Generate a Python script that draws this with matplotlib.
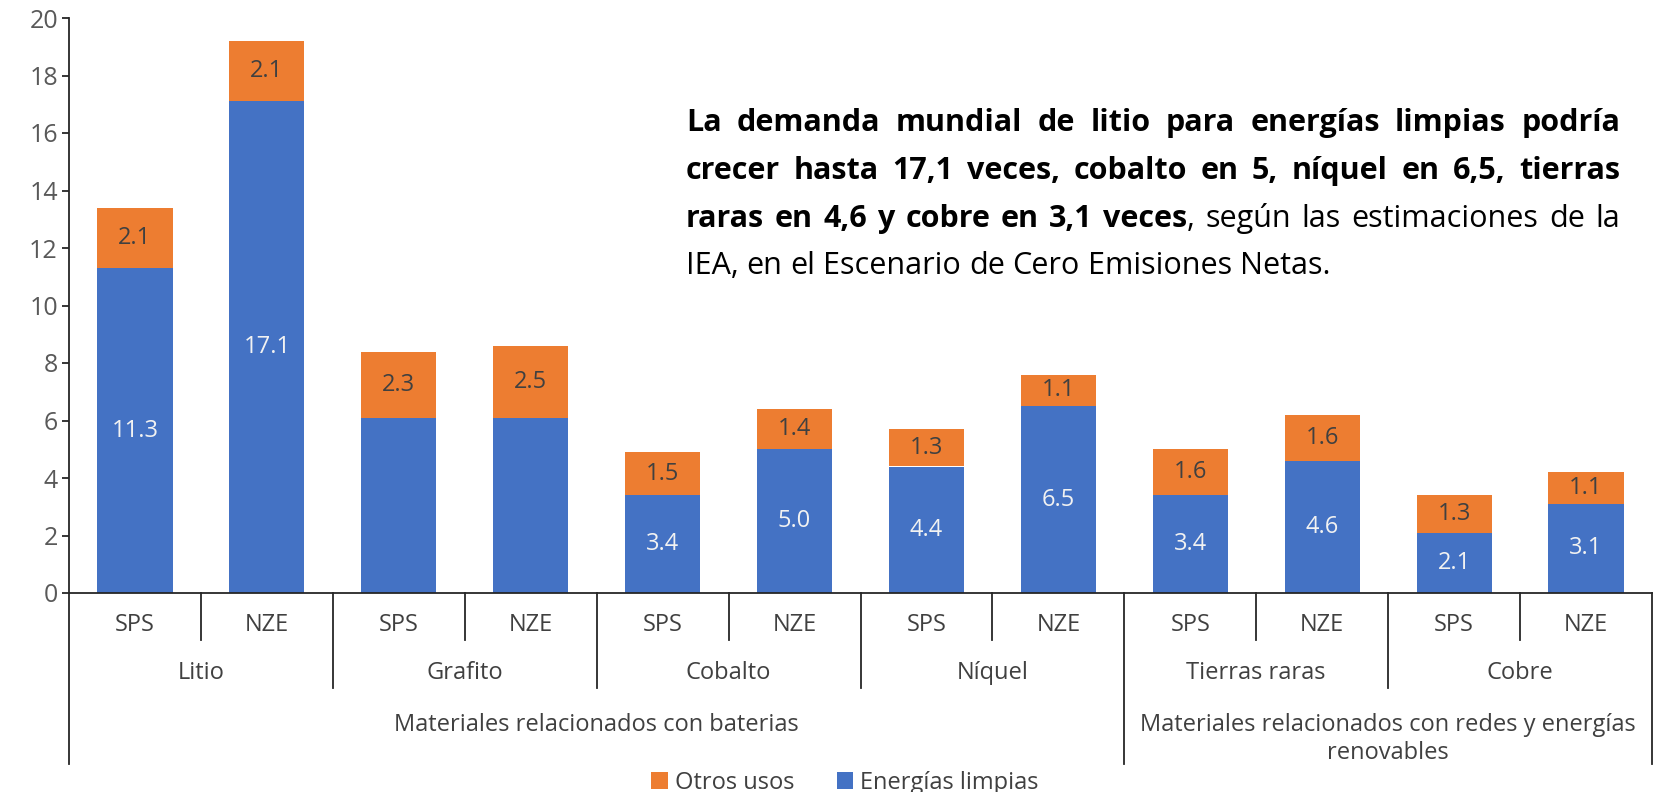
import numpy as np
import matplotlib
matplotlib.use("Agg")
import matplotlib.pyplot as plt
from matplotlib.transforms import blended_transform_factory
from matplotlib.patches import Patch

# ---------------- data ----------------
minerals = ["Litio", "Grafito", "Cobalto", "Níquel", "Tierras raras", "Cobre"]
scenarios = ["SPS", "NZE"]
supergroups = ["Materiales relacionados con baterias",
               "Materiales relacionados con redes y energías\nrenovables"]
supergroup_sizes = [4, 2]  # number of minerals in each super group

clean_energy = [11.3, 17.1, 6.1, 6.1, 3.4, 5.0, 4.4, 6.5, 3.4, 4.6, 2.1, 3.1]
other_uses = [2.1, 2.1, 2.3, 2.5, 1.5, 1.4, 1.3, 1.1, 1.6, 1.6, 1.3, 1.1]
clean_labels = ["11.3", "17.1", "", "", "3.4", "5.0", "4.4", "6.5", "3.4", "4.6", "2.1", "3.1"]
other_labels = ["2.1", "2.1", "2.3", "2.5", "1.5", "1.4", "1.3", "1.1", "1.6", "1.6", "1.3", "1.1"]

yticks = list(range(0, 21, 2))

legend_labels = ["Otros usos", "Energías limpias"]

ann_lines = [
    ("La demanda mundial de litio para energías limpias podría", ""),
    ("crecer hasta 17,1 veces, cobalto en 5, níquel en 6,5, tierras", ""),
    ("raras en 4,6 y cobre en 3,1 veces", ", según las estimaciones de la"),
    ("", "IEA, en el Escenario de Cero Emisiones Netas."),
]

# ---------------- style ----------------
BLUE = "#4472C4"
ORANGE = "#ED7D31"
FAM = ["Open Sans", "DejaVu Sans"]
plt.rcParams["font.family"] = FAM
LFS = 17  # label font size

W, H = 1660, 792
fig = plt.figure(figsize=(W / 100, H / 100), dpi=100)
fig.patch.set_facecolor("white")

ax_l, ax_r, ax_b, ax_t = 69, 1652, 593, 18
ax = fig.add_axes([ax_l / W, 1 - ax_b / H, (ax_r - ax_l) / W, (ax_b - ax_t) / H])

n = len(clean_energy)
x = np.arange(n)
bw = 0.57
ax.bar(x, clean_energy, bw, color=BLUE, zorder=2)
ax.bar(x, other_uses, bw, bottom=clean_energy, color=ORANGE, zorder=2)

for i in range(n):
    if clean_labels[i]:
        ax.text(x[i], clean_energy[i] / 2, clean_labels[i], ha="center", va="center",
                color="#F2F2F2", fontsize=LFS)
    if other_labels[i]:
        ax.text(x[i], clean_energy[i] + other_uses[i] / 2, other_labels[i], ha="center",
                va="center", color="#404040", fontsize=LFS)

ax.set_xlim(-0.5, n - 0.5)
ax.set_ylim(0, 20)
ax.set_yticks(yticks)
ax.set_xticks([])
for s in ["top", "right"]:
    ax.spines[s].set_visible(False)
for s in ["left", "bottom"]:
    ax.spines[s].set_color("#262626")
    ax.spines[s].set_linewidth(1.3)
ax.tick_params(axis="y", direction="out", length=5, width=1.3, color="#262626",
               labelcolor="#595959", labelsize=LFS + 1, pad=3)

# ---------------- multi-level x axis ----------------
tr = blended_transform_factory(ax.transData, fig.transFigure)
def fy(px):
    return 1 - px / H

LC = "#262626"
TC = "#404040"
y0 = ax_b
for i in range(n):
    ax.text(x[i], fy(625), scenarios[i % 2], transform=tr, ha="center", va="center",
            fontsize=LFS, color=TC)
for i in range(0, n, 2):
    ax.plot([i + 0.5, i + 0.5], [fy(y0), fy(640)], transform=tr, color=LC, lw=1.3,
            clip_on=False)
for j, m in enumerate(minerals):
    ax.text(2 * j + 0.5, fy(673), m, transform=tr, ha="center", va="center",
            fontsize=LFS, color=TC)
bounds = np.cumsum([0] + supergroup_sizes) * 2 - 0.5
for j in range(len(minerals) + 1):
    xb = 2 * j - 0.5
    bottom = 764 if xb in bounds else 688
    ax.plot([xb, xb], [fy(y0), fy(bottom)], transform=tr, color=LC, lw=1.3,
            clip_on=False)
start = 0
for g, sz in zip(supergroups, supergroup_sizes):
    cx = start * 2 + sz - 0.5
    ax.text(cx, fy(713), g, transform=tr, ha="center", va="top",
            fontsize=LFS, color=TC, linespacing=1.2)
    start += sz

# ---------------- legend ----------------
handles = [Patch(facecolor=ORANGE, label=legend_labels[0]),
           Patch(facecolor=BLUE, label=legend_labels[1])]
fig.legend(handles=handles, loc="center", bbox_to_anchor=(845 / W, fy(783)), ncol=2,
           frameon=False, fontsize=LFS, handlelength=0.7, handleheight=0.7,
           handletextpad=0.3, columnspacing=1.8, labelcolor="#404040")

# ---------------- justified annotation ----------------
FS = 22
left_px, right_px = 686, 1620
baselines = [131, 179, 227, 274]
r = fig.canvas.get_renderer()

def wid(s, weight):
    t = fig.text(0, 0, s, fontsize=FS, fontweight=weight)
    w = t.get_window_extent(r).width
    t.remove()
    return w

space_w = wid("a a", "normal") - wid("aa", "normal")

for li, (bold, reg) in enumerate(ann_lines):
    words = []
    for wd in bold.split():
        words.append([(wd, "bold")])
    reg_s = reg
    if reg_s.startswith(",") and words:
        words[-1].append((",", "normal"))
        reg_s = reg_s[1:]
    for wd in reg_s.split():
        words.append([(wd, "normal")])
    widths = [sum(wid(p, w) for p, w in word) for word in words]
    total = sum(widths)
    last = li == len(ann_lines) - 1
    gap = space_w if last else (right_px - left_px - total) / (len(words) - 1)
    xp = left_px
    for word, ww in zip(words, widths):
        xx = xp
        for p, w in word:
            fig.text(xx / W, fy(baselines[li]), p, fontsize=FS, fontweight=w,
                     va="baseline", ha="left", color="black")
            xx += wid(p, w)
        xp += ww + gap

fig.savefig("out.png", dpi=100, facecolor="white")
